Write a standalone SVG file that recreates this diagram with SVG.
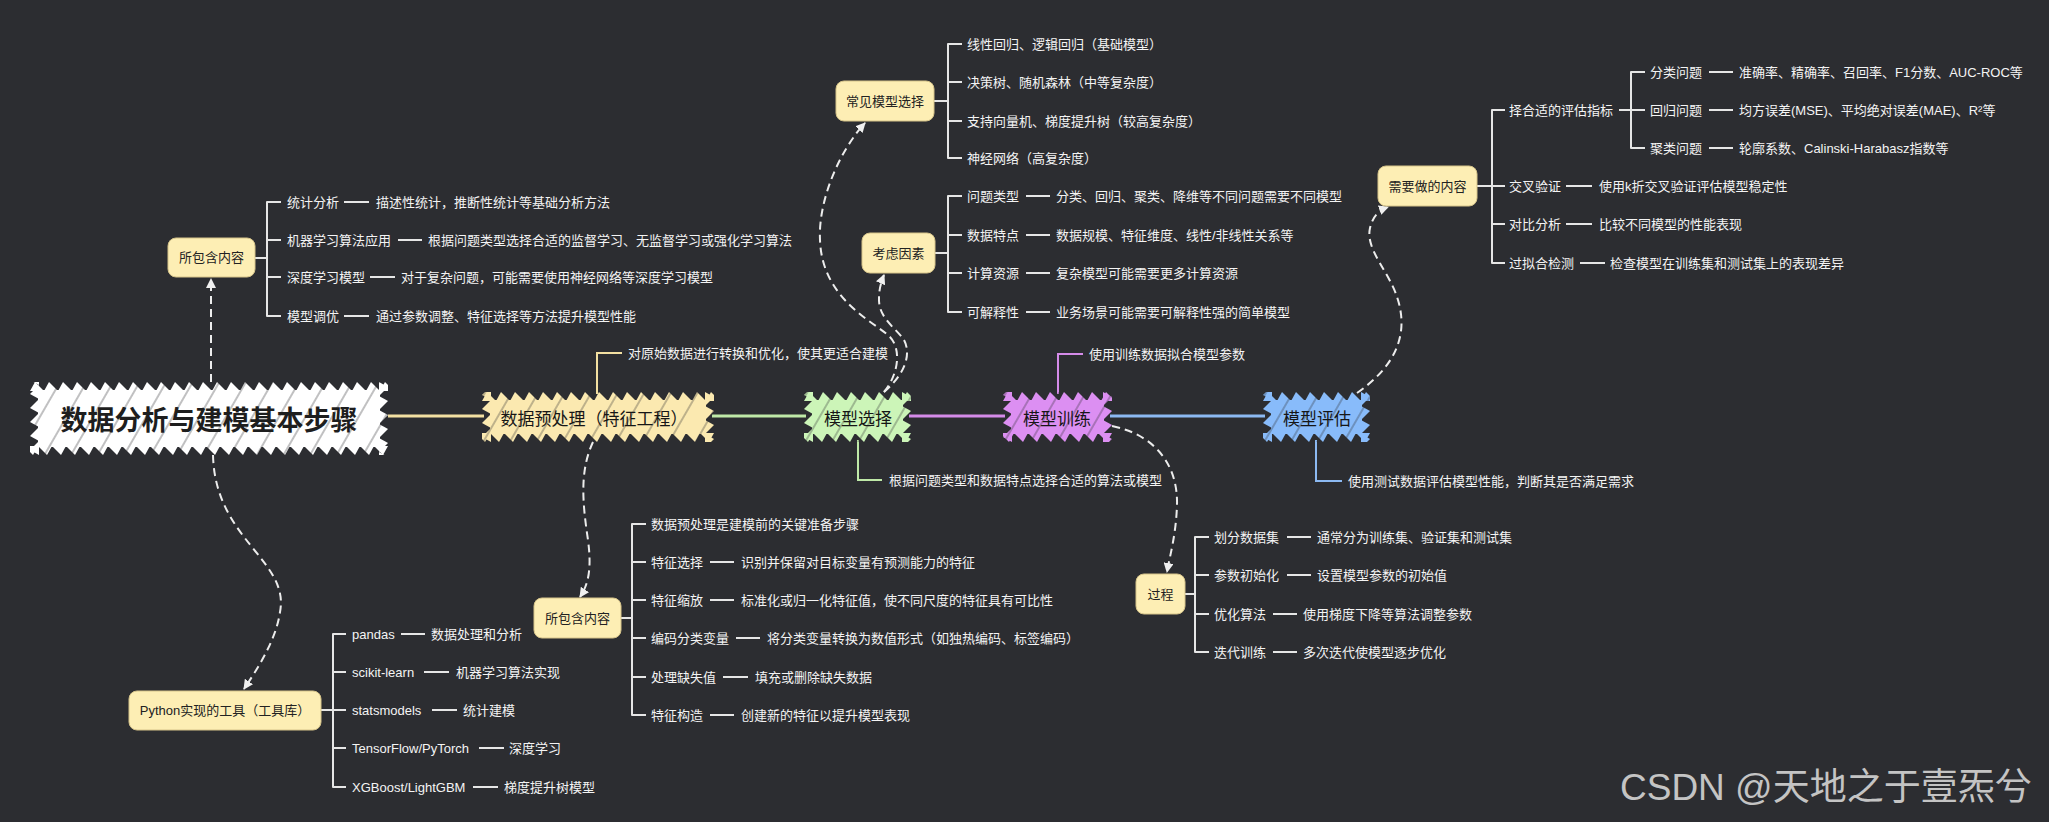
<svg xmlns="http://www.w3.org/2000/svg" width="2049" height="822" viewBox="0 0 2049 822">
<style>
  .t{font-family:"Liberation Sans","Noto Sans CJK SC",sans-serif;font-size:13px;fill:#f4f4f4;dominant-baseline:central}
  .nt{font-family:"Liberation Sans","Noto Sans CJK SC",sans-serif;font-size:13px;fill:#222222;dominant-baseline:central;text-anchor:middle}
  .mt{font-family:"Noto Sans CJK SC",sans-serif;font-size:17px;fill:#161616;dominant-baseline:central;text-anchor:middle}
  .rt{font-family:"Noto Sans CJK SC",sans-serif;font-size:27px;font-weight:700;fill:#1e1e1e;dominant-baseline:central;text-anchor:middle}
  .box{fill:#fdeeb4;stroke:#d6c48a;stroke-width:1}
  .br{fill:none;stroke:#e6e6e6;stroke-width:2;stroke-linejoin:round}
  .dl{fill:none;stroke:#ededed;stroke-width:2;stroke-dasharray:8 5;marker-end:url(#ah)}
  .lead{fill:none;stroke-width:2}
  .wm{font-family:"Liberation Sans","Noto Sans CJK SC",sans-serif;font-size:37px;fill:#c4c4c4}
</style>
<defs>
  <marker id="ah" viewBox="0 0 10 10" refX="9" refY="5" markerWidth="10" markerHeight="10" markerUnits="userSpaceOnUse" orient="auto">
    <path d="M0 0L10 5L0 10Z" fill="#f0f0f0"/>
  </marker>
  <!-- sawtooth edge tiles, one per node colour -->
  <pattern id="tw" width="14" height="9" patternUnits="userSpaceOnUse"><path d="M0 9L5 0L14 9Z" fill="#ffffff"/></pattern>
  <pattern id="ty" width="14" height="9" patternUnits="userSpaceOnUse"><path d="M0 9L5 0L14 9Z" fill="#fbe9b0"/></pattern>
  <pattern id="tg" width="14" height="9" patternUnits="userSpaceOnUse"><path d="M0 9L5 0L14 9Z" fill="#ccf5b8"/></pattern>
  <pattern id="tv" width="14" height="9" patternUnits="userSpaceOnUse"><path d="M0 9L5 0L14 9Z" fill="#dc8ff2"/></pattern>
  <pattern id="tb" width="14" height="9" patternUnits="userSpaceOnUse"><path d="M0 9L5 0L14 9Z" fill="#88bbfa"/></pattern>
  <!-- hachure strokes over the sketchy fills -->
  <pattern id="hatch" width="23" height="23" patternUnits="userSpaceOnUse" patternTransform="rotate(30)">
    <line x1="3" y1="0" x2="3" y2="23" stroke="#2c2d31" stroke-width="1" opacity="0.6"/>
  </pattern>
</defs>

<rect width="2049" height="822" fill="#2c2d31"/>

<g id="connectors">
  <!-- main spine -->
  <line x1="388" y1="416" x2="484" y2="416" stroke="#f3e0a2" stroke-width="3"/>
  <line x1="712" y1="416" x2="806" y2="416" stroke="#bfe9a8" stroke-width="3"/>
  <line x1="909" y1="416" x2="1005" y2="416" stroke="#d58be9" stroke-width="3"/>
  <line x1="1110" y1="416" x2="1265" y2="416" stroke="#8cb9f2" stroke-width="3"/>
  <!-- leader lines for step notes -->
  <path class="lead" stroke="#f3e0a2" d="M597 394V353H622"/>
  <path class="lead" stroke="#bfe9a8" d="M858 440V480H882"/>
  <path class="lead" stroke="#d58be9" d="M1058 394V354H1083"/>
  <path class="lead" stroke="#8cb9f2" d="M1316 440V481H1342"/>
  <!-- dashed relations -->
  <path class="dl" d="M211 382V279"/>
  <path class="dl" d="M213 455C215 540 290 560 280 612C276 640 258 668 244 689"/>
  <path class="dl" d="M593 442C580 470 582 500 588 540C592 570 588 585 580 597"/>
  <path class="dl" d="M884 392C898 375 902 350 890 337C875 322 822 300 820 240C818 200 840 150 865 123"/>
  <path class="dl" d="M884 392C904 375 912 355 904 340C896 328 878 318 879 298C879 290 881 282 884 275"/>
  <path class="dl" d="M1112 426C1160 436 1178 470 1177 505C1176 535 1170 555 1167 572"/>
  <path class="dl" d="M1357 393C1390 370 1410 340 1398 300C1390 272 1365 250 1370 228C1373 215 1380 210 1388 207"/>
  <!-- brackets -->
  <path class="br" d="M255 258H267M281 202H267V316H281M267 240H281M267 277H281"/>
  <path class="br" d="M934 101H948M962 44H948V158H962M948 82H962M948 121H962"/>
  <path class="br" d="M935 253H948M962 196H948V312H962M948 235H962M948 273H962"/>
  <path class="br" d="M1477 186H1505M1505 110H1492V263H1505M1492 224H1505"/>
  <path class="br" d="M1619 110H1645M1645 72H1631V148H1645"/>
  <path class="br" d="M621 618H632M646 524H632V715H646M632 562H646M632 600H646M632 638H646M632 677H646"/>
  <path class="br" d="M1185 594H1195M1209 537H1195V652H1209M1195 575H1209M1195 614H1209"/>
  <path class="br" d="M321 710H346M346 634H333V787H346M333 672H346M333 748H346"/>
  <!-- topic to description dashes -->
  <path class="br" d="M344 202H369M398 240H422M370 277H395M344 316H369"/>
  <path class="br" d="M1026 196H1050M1026 235H1050M1026 273H1050M1026 312H1050"/>
  <path class="br" d="M1709 72H1733M1709 110H1733M1709 148H1733M1566 186H1592M1566 224H1592M1580 263H1605"/>
  <path class="br" d="M710 562H734M710 600H734M736 638H760M723 677H748M710 715H734"/>
  <path class="br" d="M1287 537H1311M1287 575H1311M1273 614H1297M1273 652H1297"/>
  <path class="br" d="M401 634H425M424 672H449M432 710H457M479 748H504M473 787H498"/>
</g>

<!-- central topic -->
<g id="n-root" transform="translate(30,382)">
  <rect x="8" y="8" width="342" height="57" fill="#ffffff"/>
  <rect width="358" height="9" fill="url(#tw)"/>
  <rect width="358" height="9" fill="url(#tw)" transform="translate(358,73) rotate(180)"/>
  <rect width="73" height="9" fill="url(#tw)" transform="translate(0,73) rotate(-90)"/>
  <rect width="73" height="9" fill="url(#tw)" transform="translate(358,0) rotate(90)"/>
  <rect width="358" height="73" fill="url(#hatch)"/>
  <text class="rt" x="179" y="36">数据分析与建模基本步骤</text>
</g>

<g id="n-prep" transform="translate(482,392)">
  <rect x="8" y="8" width="216" height="34" fill="#fbe9b0"/>
  <rect width="232" height="9" fill="url(#ty)"/>
  <rect width="232" height="9" fill="url(#ty)" transform="translate(232,50) rotate(180)"/>
  <rect width="50" height="9" fill="url(#ty)" transform="translate(0,50) rotate(-90)"/>
  <rect width="50" height="9" fill="url(#ty)" transform="translate(232,0) rotate(90)"/>
  <rect width="232" height="50" fill="url(#hatch)"/>
  <text class="mt" x="112" y="25">数据预处理（特征工程）</text>
</g>

<g id="n-select" transform="translate(804,392)">
  <rect x="8" y="8" width="91" height="34" fill="#ccf5b8"/>
  <rect width="107" height="9" fill="url(#tg)"/>
  <rect width="107" height="9" fill="url(#tg)" transform="translate(107,50) rotate(180)"/>
  <rect width="50" height="9" fill="url(#tg)" transform="translate(0,50) rotate(-90)"/>
  <rect width="50" height="9" fill="url(#tg)" transform="translate(107,0) rotate(90)"/>
  <rect width="107" height="50" fill="url(#hatch)"/>
  <text class="mt" x="54" y="25">模型选择</text>
</g>

<g id="n-train" transform="translate(1003,392)">
  <rect x="8" y="8" width="93" height="34" fill="#dc8ff2"/>
  <rect width="109" height="9" fill="url(#tv)"/>
  <rect width="109" height="9" fill="url(#tv)" transform="translate(109,50) rotate(180)"/>
  <rect width="50" height="9" fill="url(#tv)" transform="translate(0,50) rotate(-90)"/>
  <rect width="50" height="9" fill="url(#tv)" transform="translate(109,0) rotate(90)"/>
  <rect width="109" height="50" fill="url(#hatch)"/>
  <text class="mt" x="54" y="25">模型训练</text>
</g>

<g id="n-eval" transform="translate(1263,392)">
  <rect x="8" y="8" width="91" height="34" fill="#88bbfa"/>
  <rect width="107" height="9" fill="url(#tb)"/>
  <rect width="107" height="9" fill="url(#tb)" transform="translate(107,50) rotate(180)"/>
  <rect width="50" height="9" fill="url(#tb)" transform="translate(0,50) rotate(-90)"/>
  <rect width="50" height="9" fill="url(#tb)" transform="translate(107,0) rotate(90)"/>
  <rect width="107" height="50" fill="url(#hatch)"/>
  <text class="mt" x="54" y="25">模型评估</text>
</g>

<!-- step notes -->
<g id="note-prep"><text class="t" x="628" y="353">对原始数据进行转换和优化，使其更适合建模</text></g>
<g id="note-select"><text class="t" x="889" y="480">根据问题类型和数据特点选择合适的算法或模型</text></g>
<g id="note-train"><text class="t" x="1089" y="354">使用训练数据拟合模型参数</text></g>
<g id="note-eval"><text class="t" x="1348" y="481">使用测试数据评估模型性能，判断其是否满足需求</text></g>

<!-- scope of the whole process -->
<g id="n-contents">
  <rect class="box" x="168" y="238" width="87" height="39" rx="8"/>
  <text class="nt" x="211.5" y="257.5">所包含内容</text>
</g>
<g id="c-stat"><text class="t" x="287" y="202">统计分析</text><text class="t" x="376" y="202">描述性统计，推断性统计等基础分析方法</text></g>
<g id="c-ml"><text class="t" x="287" y="240">机器学习算法应用</text><text class="t" x="428" y="240">根据问题类型选择合适的监督学习、无监督学习或强化学习算法</text></g>
<g id="c-dl"><text class="t" x="287" y="277">深度学习模型</text><text class="t" x="401" y="277">对于复杂问题，可能需要使用神经网络等深度学习模型</text></g>
<g id="c-tune"><text class="t" x="287" y="316">模型调优</text><text class="t" x="376" y="316">通过参数调整、特征选择等方法提升模型性能</text></g>

<!-- tooling -->
<g id="n-tools">
  <rect class="box" x="129" y="691" width="192" height="39" rx="8"/>
  <text class="nt" x="225" y="710.5">Python实现的工具（工具库）</text>
</g>
<g id="c-pandas"><text class="t" x="352" y="634">pandas</text><text class="t" x="431" y="634">数据处理和分析</text></g>
<g id="c-sklearn"><text class="t" x="352" y="672">scikit-learn</text><text class="t" x="456" y="672">机器学习算法实现</text></g>
<g id="c-statsmodels"><text class="t" x="352" y="710">statsmodels</text><text class="t" x="463" y="710">统计建模</text></g>
<g id="c-tf"><text class="t" x="352" y="748">TensorFlow/PyTorch</text><text class="t" x="509" y="748">深度学习</text></g>
<g id="c-xgb"><text class="t" x="352" y="787">XGBoost/LightGBM</text><text class="t" x="504" y="787">梯度提升树模型</text></g>

<!-- preprocessing details -->
<g id="n-prep-contents">
  <rect class="box" x="534" y="598" width="87" height="40" rx="8"/>
  <text class="nt" x="577.5" y="618">所包含内容</text>
</g>
<g id="c-prep-key"><text class="t" x="651" y="524">数据预处理是建模前的关键准备步骤</text></g>
<g id="c-fsel"><text class="t" x="651" y="562">特征选择</text><text class="t" x="741" y="562">识别并保留对目标变量有预测能力的特征</text></g>
<g id="c-fscale"><text class="t" x="651" y="600">特征缩放</text><text class="t" x="741" y="600">标准化或归一化特征值，使不同尺度的特征具有可比性</text></g>
<g id="c-encode"><text class="t" x="651" y="638">编码分类变量</text><text class="t" x="767" y="638">将分类变量转换为数值形式（如独热编码、标签编码）</text></g>
<g id="c-missing"><text class="t" x="651" y="677">处理缺失值</text><text class="t" x="755" y="677">填充或删除缺失数据</text></g>
<g id="c-fcons"><text class="t" x="651" y="715">特征构造</text><text class="t" x="741" y="715">创建新的特征以提升模型表现</text></g>

<!-- model selection details -->
<g id="n-common-models">
  <rect class="box" x="836" y="81" width="98" height="40" rx="8"/>
  <text class="nt" x="885" y="101">常见模型选择</text>
</g>
<g id="c-linear"><text class="t" x="967" y="44">线性回归、逻辑回归（基础模型）</text></g>
<g id="c-tree"><text class="t" x="967" y="82">决策树、随机森林（中等复杂度）</text></g>
<g id="c-svm"><text class="t" x="967" y="121">支持向量机、梯度提升树（较高复杂度）</text></g>
<g id="c-nn"><text class="t" x="967" y="158">神经网络（高复杂度）</text></g>

<g id="n-factors">
  <rect class="box" x="862" y="233" width="73" height="40" rx="8"/>
  <text class="nt" x="898.5" y="253">考虑因素</text>
</g>
<g id="c-ptype"><text class="t" x="967" y="196">问题类型</text><text class="t" x="1056" y="196">分类、回归、聚类、降维等不同问题需要不同模型</text></g>
<g id="c-dtrait"><text class="t" x="967" y="235">数据特点</text><text class="t" x="1056" y="235">数据规模、特征维度、线性/非线性关系等</text></g>
<g id="c-compute"><text class="t" x="967" y="273">计算资源</text><text class="t" x="1056" y="273">复杂模型可能需要更多计算资源</text></g>
<g id="c-explain"><text class="t" x="967" y="312">可解释性</text><text class="t" x="1056" y="312">业务场景可能需要可解释性强的简单模型</text></g>

<!-- training details -->
<g id="n-process">
  <rect class="box" x="1136" y="574" width="49" height="40" rx="8"/>
  <text class="nt" x="1160.5" y="594">过程</text>
</g>
<g id="c-split"><text class="t" x="1214" y="537">划分数据集</text><text class="t" x="1317" y="537">通常分为训练集、验证集和测试集</text></g>
<g id="c-init"><text class="t" x="1214" y="575">参数初始化</text><text class="t" x="1317" y="575">设置模型参数的初始值</text></g>
<g id="c-opt"><text class="t" x="1214" y="614">优化算法</text><text class="t" x="1303" y="614">使用梯度下降等算法调整参数</text></g>
<g id="c-iter"><text class="t" x="1214" y="652">迭代训练</text><text class="t" x="1303" y="652">多次迭代使模型逐步优化</text></g>

<!-- evaluation details -->
<g id="n-todo">
  <rect class="box" x="1378" y="166" width="99" height="40" rx="8"/>
  <text class="nt" x="1427.5" y="186">需要做的内容</text>
</g>
<g id="c-metrics"><text class="t" x="1509" y="110">择合适的评估指标</text></g>
<g id="c-cls"><text class="t" x="1650" y="72">分类问题</text><text class="t" x="1739" y="72">准确率、精确率、召回率、F1分数、AUC-ROC等</text></g>
<g id="c-reg"><text class="t" x="1650" y="110">回归问题</text><text class="t" x="1739" y="110">均方误差(MSE)、平均绝对误差(MAE)、R²等</text></g>
<g id="c-clu"><text class="t" x="1650" y="148">聚类问题</text><text class="t" x="1739" y="148">轮廓系数、Calinski-Harabasz指数等</text></g>
<g id="c-cv"><text class="t" x="1509" y="186">交叉验证</text><text class="t" x="1599" y="186">使用k折交叉验证评估模型稳定性</text></g>
<g id="c-compare"><text class="t" x="1509" y="224">对比分析</text><text class="t" x="1599" y="224">比较不同模型的性能表现</text></g>
<g id="c-overfit"><text class="t" x="1509" y="263">过拟合检测</text><text class="t" x="1610" y="263">检查模型在训练集和测试集上的表现差异</text></g>

<text class="wm" x="1620" y="800">CSDN @天地之于壹炁兮</text>
</svg>
